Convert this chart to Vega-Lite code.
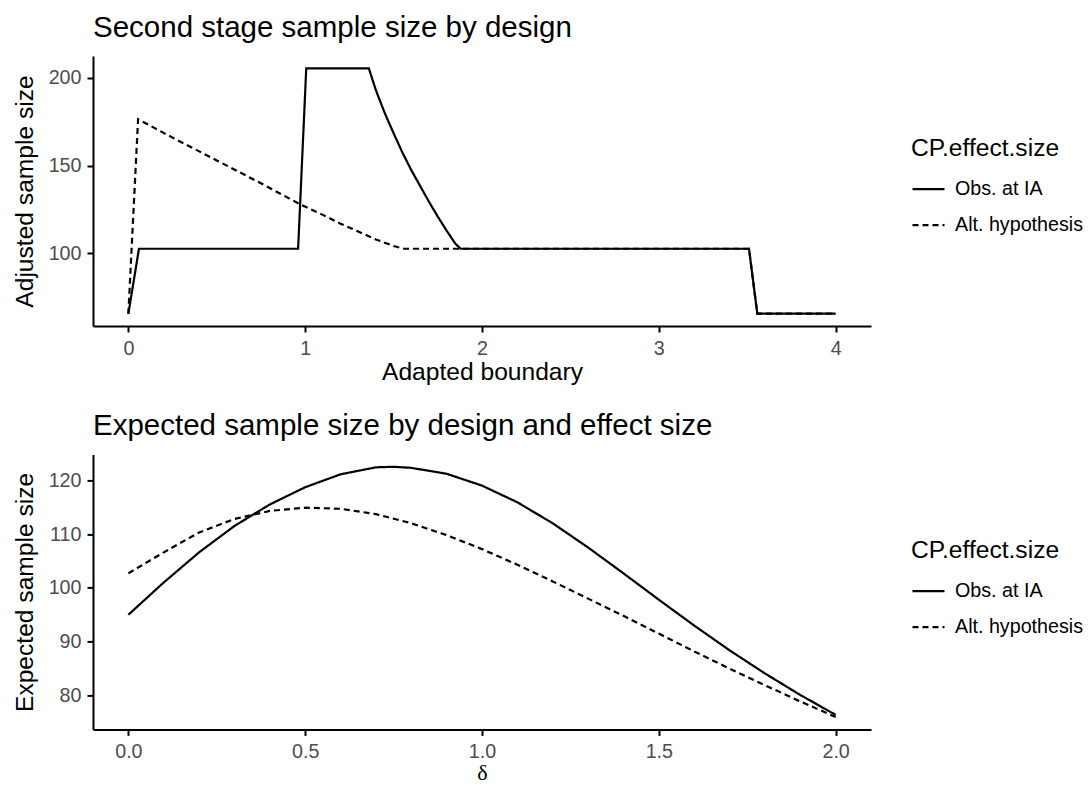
{
  "$schema": "https://vega.github.io/schema/vega-lite/v6.json",
  "background": "white",
  "padding": {"left": 11, "top": 12, "right": 0, "bottom": 0},
  "bounds": "flush",
  "spacing": 128.4,
  "resolve": {"scale": {"strokeDash": "independent"}, "legend": {"strokeDash": "independent"}},
  "config": {
    "font": "Liberation Sans",
    "view": {"stroke": null},
    "axis": {
      "grid": false,
      "domainColor": "black",
      "domainWidth": 2,
      "tickColor": "black",
      "tickWidth": 2,
      "tickSize": 6,
      "labelColor": "#4d4d4d",
      "labelFontSize": 19.7,
      "labelFont": "Liberation Sans",
      "labelPadding": 6,
      "titleFontSize": 24.6,
      "titleFont": "Liberation Sans",
      "titleFontWeight": "normal",
      "titleColor": "black"
    },
    "axisY": {"minExtent": 45, "maxExtent": 45, "titlePadding": 11},
    "axisX": {"labelPadding": 6, "titlePadding": 3},
    "title": {
      "fontSize": 29.5,
      "fontWeight": "normal",
      "anchor": "start",
      "frame": "group",
      "color": "black",
      "font": "Liberation Sans",
      "baseline": "alphabetic",
      "offset": 13
    },
    "legend": {
      "orient": "none",
      "padding": 0,
      "titleFontSize": 24.6,
      "titleFontWeight": "normal",
      "titleColor": "black",
      "titleFont": "Liberation Sans",
      "titlePadding": 10,
      "labelFontSize": 19.7,
      "labelColor": "black",
      "labelFont": "Liberation Sans",
      "labelOffset": 9,
      "symbolSize": 1024,
      "symbolType": "stroke",
      "symbolStrokeColor": "black",
      "symbolStrokeWidth": 2.2,
      "rowPadding": 8
    },
    "line": {"stroke": "black", "strokeWidth": 2.2}
  },
  "datasets": {
    "stage2": [
      {"boundary": 0.0, "n": 65.7, "CP": "Obs. at IA"},
      {"boundary": 0.06, "n": 102.7, "CP": "Obs. at IA"},
      {"boundary": 0.96, "n": 102.7, "CP": "Obs. at IA"},
      {"boundary": 1.006, "n": 205.5, "CP": "Obs. at IA"},
      {"boundary": 1.36, "n": 205.5, "CP": "Obs. at IA"},
      {"boundary": 1.40, "n": 193.0, "CP": "Obs. at IA"},
      {"boundary": 1.45, "n": 180.0, "CP": "Obs. at IA"},
      {"boundary": 1.50, "n": 168.5, "CP": "Obs. at IA"},
      {"boundary": 1.55, "n": 157.5, "CP": "Obs. at IA"},
      {"boundary": 1.60, "n": 147.5, "CP": "Obs. at IA"},
      {"boundary": 1.65, "n": 138.5, "CP": "Obs. at IA"},
      {"boundary": 1.70, "n": 129.5, "CP": "Obs. at IA"},
      {"boundary": 1.75, "n": 121.0, "CP": "Obs. at IA"},
      {"boundary": 1.80, "n": 113.0, "CP": "Obs. at IA"},
      {"boundary": 1.85, "n": 105.5, "CP": "Obs. at IA"},
      {"boundary": 1.88, "n": 102.7, "CP": "Obs. at IA"},
      {"boundary": 3.51, "n": 102.7, "CP": "Obs. at IA"},
      {"boundary": 3.557, "n": 65.7, "CP": "Obs. at IA"},
      {"boundary": 4.0, "n": 65.7, "CP": "Obs. at IA"},
      {"boundary": 0.0, "n": 65.7, "CP": "Alt. hypothesis"},
      {"boundary": 0.055, "n": 176.5, "CP": "Alt. hypothesis"},
      {"boundary": 0.25, "n": 166.0, "CP": "Alt. hypothesis"},
      {"boundary": 0.5, "n": 153.0, "CP": "Alt. hypothesis"},
      {"boundary": 0.75, "n": 140.0, "CP": "Alt. hypothesis"},
      {"boundary": 0.968, "n": 128.2, "CP": "Alt. hypothesis"},
      {"boundary": 1.1, "n": 122.0, "CP": "Alt. hypothesis"},
      {"boundary": 1.2, "n": 117.0, "CP": "Alt. hypothesis"},
      {"boundary": 1.3, "n": 112.5, "CP": "Alt. hypothesis"},
      {"boundary": 1.4, "n": 108.0, "CP": "Alt. hypothesis"},
      {"boundary": 1.5, "n": 104.3, "CP": "Alt. hypothesis"},
      {"boundary": 1.56, "n": 102.7, "CP": "Alt. hypothesis"},
      {"boundary": 3.51, "n": 102.7, "CP": "Alt. hypothesis"},
      {"boundary": 3.557, "n": 65.7, "CP": "Alt. hypothesis"},
      {"boundary": 4.0, "n": 65.7, "CP": "Alt. hypothesis"}
    ],
    "expected": [
      {"delta": 0.0, "n": 95.0, "CP": "Obs. at IA"},
      {"delta": 0.1, "n": 101.0, "CP": "Obs. at IA"},
      {"delta": 0.2, "n": 106.6, "CP": "Obs. at IA"},
      {"delta": 0.3, "n": 111.5, "CP": "Obs. at IA"},
      {"delta": 0.4, "n": 115.5, "CP": "Obs. at IA"},
      {"delta": 0.5, "n": 118.7, "CP": "Obs. at IA"},
      {"delta": 0.6, "n": 121.1, "CP": "Obs. at IA"},
      {"delta": 0.7, "n": 122.4, "CP": "Obs. at IA"},
      {"delta": 0.75, "n": 122.5, "CP": "Obs. at IA"},
      {"delta": 0.8, "n": 122.3, "CP": "Obs. at IA"},
      {"delta": 0.9, "n": 121.2, "CP": "Obs. at IA"},
      {"delta": 1.0, "n": 119.0, "CP": "Obs. at IA"},
      {"delta": 1.1, "n": 115.9, "CP": "Obs. at IA"},
      {"delta": 1.2, "n": 112.0, "CP": "Obs. at IA"},
      {"delta": 1.3, "n": 107.5, "CP": "Obs. at IA"},
      {"delta": 1.4, "n": 102.7, "CP": "Obs. at IA"},
      {"delta": 1.5, "n": 97.8, "CP": "Obs. at IA"},
      {"delta": 1.6, "n": 93.0, "CP": "Obs. at IA"},
      {"delta": 1.7, "n": 88.4, "CP": "Obs. at IA"},
      {"delta": 1.8, "n": 84.1, "CP": "Obs. at IA"},
      {"delta": 1.9, "n": 80.1, "CP": "Obs. at IA"},
      {"delta": 2.0, "n": 76.4, "CP": "Obs. at IA"},
      {"delta": 0.0, "n": 102.7, "CP": "Alt. hypothesis"},
      {"delta": 0.1, "n": 106.6, "CP": "Alt. hypothesis"},
      {"delta": 0.2, "n": 110.3, "CP": "Alt. hypothesis"},
      {"delta": 0.3, "n": 112.8, "CP": "Alt. hypothesis"},
      {"delta": 0.4, "n": 114.3, "CP": "Alt. hypothesis"},
      {"delta": 0.5, "n": 114.9, "CP": "Alt. hypothesis"},
      {"delta": 0.6, "n": 114.7, "CP": "Alt. hypothesis"},
      {"delta": 0.7, "n": 113.7, "CP": "Alt. hypothesis"},
      {"delta": 0.8, "n": 112.0, "CP": "Alt. hypothesis"},
      {"delta": 0.9, "n": 109.8, "CP": "Alt. hypothesis"},
      {"delta": 1.0, "n": 107.2, "CP": "Alt. hypothesis"},
      {"delta": 1.1, "n": 104.3, "CP": "Alt. hypothesis"},
      {"delta": 1.2, "n": 101.2, "CP": "Alt. hypothesis"},
      {"delta": 1.3, "n": 98.0, "CP": "Alt. hypothesis"},
      {"delta": 1.4, "n": 94.8, "CP": "Alt. hypothesis"},
      {"delta": 1.5, "n": 91.5, "CP": "Alt. hypothesis"},
      {"delta": 1.6, "n": 88.2, "CP": "Alt. hypothesis"},
      {"delta": 1.7, "n": 85.0, "CP": "Alt. hypothesis"},
      {"delta": 1.8, "n": 81.9, "CP": "Alt. hypothesis"},
      {"delta": 1.9, "n": 78.9, "CP": "Alt. hypothesis"},
      {"delta": 2.0, "n": 76.0, "CP": "Alt. hypothesis"}
    ]
  },
  "vconcat": [
    {
      "title": "Second stage sample size by design",
      "width": 778,
      "height": 270,
      "data": {"name": "stage2"},
      "mark": {"type": "line", "strokeWidth": 2.2, "color": "black"},
      "encoding": {
        "x": {
          "field": "boundary",
          "type": "quantitative",
          "title": "Adapted boundary",
          "scale": {"domain": [-0.2, 4.2], "nice": false, "zero": false},
          "axis": {"values": [0, 1, 2, 3, 4], "format": "d"}
        },
        "y": {
          "field": "n",
          "type": "quantitative",
          "title": "Adjusted sample size",
          "scale": {"domain": [58.7, 212.5], "nice": false, "zero": false},
          "axis": {"values": [100, 150, 200]}
        },
        "strokeDash": {
          "field": "CP",
          "type": "nominal",
          "title": "CP.effect.size",
          "scale": {"domain": ["Obs. at IA", "Alt. hypothesis"], "range": [[1, 0], [6, 4]]},
          "legend": {"legendX": 818, "legendY": 81}
        }
      }
    },
    {
      "title": "Expected sample size by design and effect size",
      "width": 778,
      "height": 275,
      "data": {"name": "expected"},
      "mark": {"type": "line", "strokeWidth": 2.2, "color": "black"},
      "encoding": {
        "x": {
          "field": "delta",
          "type": "quantitative",
          "title": "δ",
          "scale": {"domain": [-0.1, 2.1], "nice": false, "zero": false},
          "axis": {"values": [0, 0.5, 1, 1.5, 2], "format": ".1f", "titleFont": "Liberation Serif", "titleFontSize": 22, "titlePadding": 1}
        },
        "y": {
          "field": "n",
          "type": "quantitative",
          "title": "Expected sample size",
          "scale": {"domain": [73.7, 124.8], "nice": false, "zero": false},
          "axis": {"values": [80, 90, 100, 110, 120]}
        },
        "strokeDash": {
          "field": "CP",
          "type": "nominal",
          "title": "CP.effect.size",
          "scale": {"domain": ["Obs. at IA", "Alt. hypothesis"], "range": [[1, 0], [6, 4]]},
          "legend": {"legendX": 818, "legendY": 84.6}
        }
      }
    }
  ]
}
